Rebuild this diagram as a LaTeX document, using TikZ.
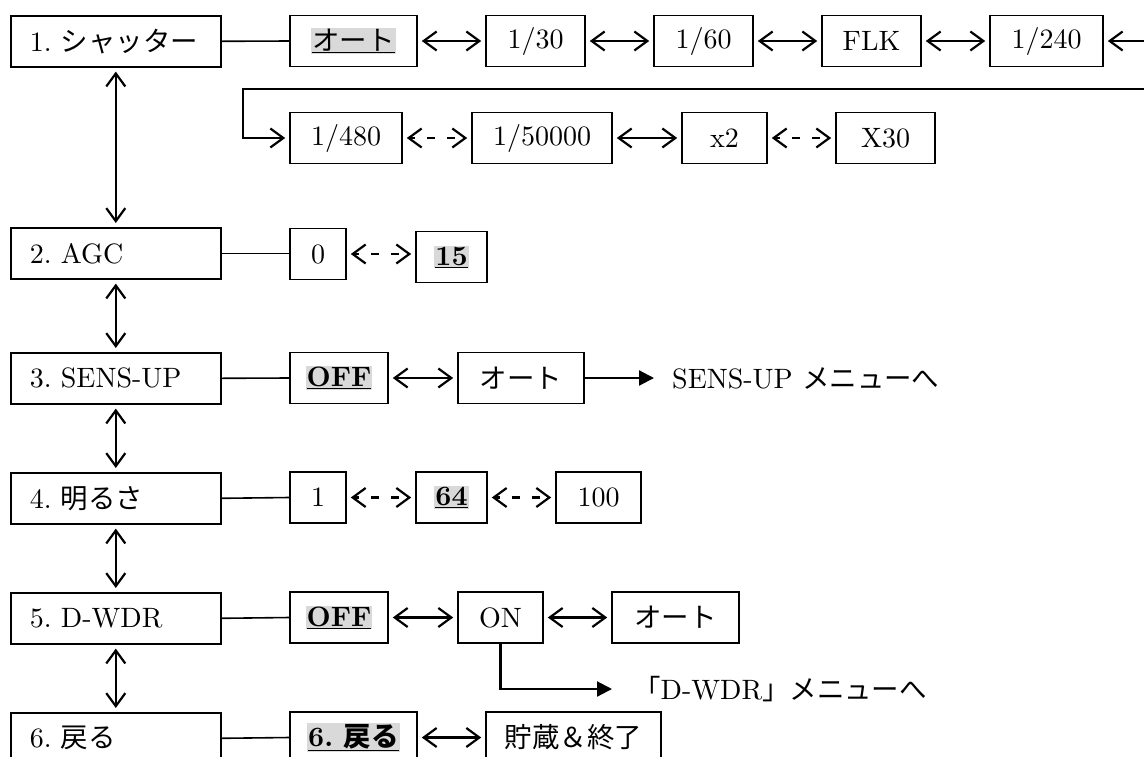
\documentclass[tikz,border=0pt]{standalone}
\usepackage{fontspec}
\usetikzlibrary{arrows.meta}
\setmainfont{lmroman10-regular.otf}[BoldFont=lmroman10-bold.otf]
\newfontfamily\jp{Noto Sans CJK JP}[Scale=0.98]
\newcommand\J[1]{{\jp #1}}
\newcommand\mtxt[1]{\makebox[172pt][l]{#1}}
\definecolor{hlgray}{HTML}{D9D9D9}
\newcommand\hlt[1]{{\setlength{\fboxsep}{1pt}\colorbox{hlgray}{\underline{#1}}}}
\frenchspacing
\tikzset{
  box/.style={draw, line width=1.6pt, fill=white, inner sep=0pt, minimum height=51pt,
    font=\fontsize{28}{30}\selectfont\frenchspacing},
  mainbox/.style={box, anchor=north west, minimum width=210pt, inner xsep=19pt},
  bi/.style={line width=2.2pt, {Straight Barb[length=13pt,width=19pt]}-{Straight Barb[length=13pt,width=19pt]},
    shorten <=4pt, shorten >=4pt},
  dbi/.style={bi, dash pattern=on 8pt off 12pt, dash phase=3pt},
  conn/.style={line width=1.6pt},
  fwd/.style={line width=2.2pt, -{Triangle[length=15pt,width=15pt]}},
  lbl/.style={anchor=west, inner sep=0pt, font=\fontsize{28}{30}\selectfont\frenchspacing},
}
\begin{document}
\begin{tikzpicture}[x=1pt,y=-1pt]
\useasboundingbox (0,0) rectangle (1144,756);
\clip (0,0) rectangle (1144,756);
\fill[white] (0,0) rectangle (1144,756);
% main column
\node[mainbox] (s1) at (10,15) {\mtxt{1. \J{シャッター}}};
\node[mainbox] (s2) at (10,227) {\mtxt{2. AGC}};
\node[mainbox] (s3) at (10,352) {\mtxt{3. SENS-UP}};
\node[mainbox] (s4) at (10,472) {\mtxt{4. \J{明るさ}}};
\node[mainbox] (s5) at (10,592) {\mtxt{5. D-WDR}};
\node[mainbox] (s6) at (10,712) {\mtxt{6. \J{戻る}}};
\draw[bi] (s1.south) -- (s2.north);
\draw[bi] (s2.south) -- (s3.north);
\draw[bi] (s3.south) -- (s4.north);
\draw[bi] (s4.south) -- (s5.north);
\draw[bi] (s5.south) -- (s6.north);
% row 1
\node[box, minimum width=127pt] (a1) at (353.5,41) {\hlt{\J{オート}}};
\node[box, minimum width=99pt] (b30) at (535.5,41) {1/30};
\node[box, minimum width=99pt] (b60) at (703.5,41) {1/60};
\node[box, minimum width=99pt] (flk) at (871.5,41) {FLK};
\node[box, minimum width=113pt] (b240) at (1046.5,41) {1/240};
\draw[conn] (s1.east) -- (a1.west);
\draw[bi] (a1.east) -- (b30.west);
\draw[bi] (b30.east) -- (b60.west);
\draw[bi] (b60.east) -- (flk.west);
\draw[bi] (flk.east) -- (b240.west);
% row 1b
\node[box, minimum width=112pt] (b480) at (346,138) {1/480};
\node[box, minimum width=140pt] (b50k) at (542,138) {1/50000};
\node[box, minimum width=85pt] (x2) at (724.5,138) {x2};
\node[box, minimum width=99pt] (x30) at (885.5,138) {X30};
\coordinate (wr1) at (1170,41);
\coordinate (wr2) at (1170,89);
\coordinate (wl) at (243,89);
\draw[bi] (b240.east) -- (wr1) -- (wr2) -- (wl) |- (b480.west);
\draw[dbi] (b480.east) -- (b50k.west);
\draw[bi] (b50k.east) -- (x2.west);
\draw[dbi] (x2.east) -- (x30.west);
% AGC
\node[box, minimum width=56pt] (z0) at (318,254) {0};
\node[box, minimum width=71pt] (z15) at (451.5,257) {\hlt{\bfseries 15}};
\draw[conn] (s2.east) -- (s2.east -| z0.west);
\draw[dbi] (z0.east) -- (z0.east -| z15.west);
% SENS-UP
\node[box, minimum width=98pt] (off1) at (339,378) {\hlt{\bfseries OFF}};
\node[box, minimum width=126pt] (auto2) at (521,378) {\J{オート}};
\node[lbl] (senstxt) at (672,378) {SENS-UP \J{メニューへ}};
\draw[conn] (s3.east) -- (off1.west);
\draw[bi] (off1.east) -- (auto2.west);
\draw[fwd, shorten >=18pt] (auto2.east) -- (senstxt.west);
% brightness
\node[box, minimum width=56pt] (one) at (318,497.5) {1};
\node[box, minimum width=71pt] (b64) at (451.5,497.5) {\hlt{\bfseries 64}};
\node[box, minimum width=85pt] (b100) at (598.5,497.5) {100};
\draw[conn] (s4.east) -- (one.west);
\draw[dbi] (one.east) -- (b64.west);
\draw[dbi] (b64.east) -- (b100.west);
% D-WDR
\node[box, minimum width=98pt] (off2) at (339,617.5) {\hlt{\bfseries OFF}};
\node[box, minimum width=85pt] (on) at (500.5,617.5) {ON};
\node[box, minimum width=127pt] (auto3) at (675.5,617.5) {\J{オート}};
\node[lbl] (dwtxt) at (633,689) {\J{「}D-WDR\J{」メニューへ}};
\draw[conn] (s5.east) -- (off2.west);
\draw[bi] (off2.east) -- (on.west);
\draw[bi] (on.east) -- (auto3.west);
\draw[fwd, shorten >=21pt] (on.south) |- (dwtxt.west);
% back
\node[box, minimum width=127pt] (back) at (353.5,737.5) {\hlt{\bfseries 6. \J{戻る}}};
\node[box, minimum width=175pt] (save) at (573.5,737.5) {\J{貯蔵＆終了}};
\draw[conn] (s6.east) -- (back.west);
\draw[bi] (back.east) -- (save.west);
\end{tikzpicture}
\end{document}
